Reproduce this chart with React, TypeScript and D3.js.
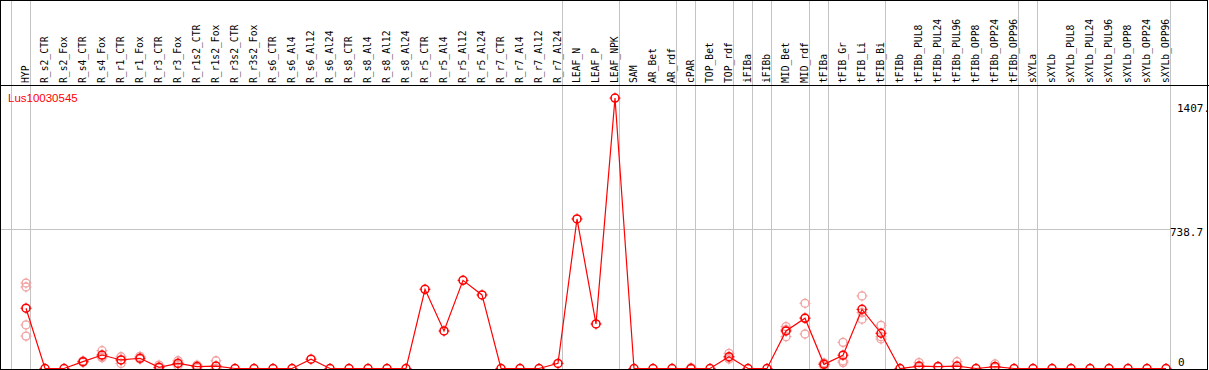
import React, { useEffect } from 'react';
import * as d3 from 'd3';

const geneName = 'Lus10030545';

const categories = [
  'HYP', 'R_s2_CTR', 'R_s2_Fox', 'R_s4_CTR', 'R_s4_Fox', 'R_r1_CTR', 'R_r1_Fox', 'R_r3_CTR', 'R_r3_Fox',
  'R_r1s2_CTR', 'R_r1s2_Fox', 'R_r3s2_CTR', 'R_r3s2_Fox', 'R_s6_CTR', 'R_s6_Al4', 'R_s6_Al12', 'R_s6_Al24',
  'R_s8_CTR', 'R_s8_Al4', 'R_s8_Al12', 'R_s8_Al24', 'R_r5_CTR', 'R_r5_Al4', 'R_r5_Al12', 'R_r5_Al24',
  'R_r7_CTR', 'R_r7_Al4', 'R_r7_Al12', 'R_r7_Al24', 'LEAF_N', 'LEAF_P', 'LEAF_NPK', 'SAM', 'AR_Bet', 'AR_rdf',
  'cPAR', 'TOP_Bet', 'TOP_rdf', 'iFIBa', 'iFIBb', 'MID_Bet', 'MID_rdf', 'tFIBa', 'tFIB_Gr', 'tFIB_Li', 'tFIB_Bi',
  'tFIBb', 'tFIBb_PUL8', 'tFIBb_PUL24', 'tFIBb_PUL96', 'tFIBb_OPP8', 'tFIBb_OPP24', 'tFIBb_OPP96',
  'sXYLa', 'sXYLb', 'sXYLb_PUL8', 'sXYLb_PUL24', 'sXYLb_PUL96', 'sXYLb_OPP8', 'sXYLb_OPP24', 'sXYLb_OPP96',
];

// mean expression per sample
const expression = [
  318, 0, 0, 36, 71, 45, 54, 6, 27,
  10, 13, 0, 0, 0, 0, 49, 0,
  0, 0, 0, 0, 418, 198, 465, 388,
  0, 0, 0, 27, 789, 235, 1427, 0, 0, 0,
  0, 0, 62, 0, 0, 198, 265, 22, 70, 312, 186,
  0, 13, 10, 13, 0, 10, 0,
  0, 0, 0, 0, 0, 0, 0, 0,
];

// replicate values per sample (empty = replicates coincide with the mean)
const replicates: number[][] = [
  [451, 430, 230, 171], [], [], [40, 32, 36], [94, 57, 62], [62, 27, 46], [64, 50, 52], [18, 3], [41, 15, 29],
  [3, 18], [41, 0], [], [], [], [], [], [],
  [], [], [], [], [], [], [], [],
  [], [], [], [], [], [], [], [], [], [],
  [5, 0], [], [80, 57, 50], [], [], [221, 168, 205], [344, 182, 268], [24, 30, 12], [138, 31, 40], [383, 260, 295], [228, 168, 156],
  [], [31, 5], [10], [36, 3], [], [24, 5], [],
  [], [], [], [], [], [], [], [],
];

// samples after which a group separator is drawn
const groupEnds = [
  'HYP', 'R_r7_Al24', 'LEAF_NPK', 'AR_rdf', 'cPAR', 'TOP_rdf', 'iFIBa', 'iFIBb', 'MID_rdf', 'tFIBa', 'tFIB_Bi',
  'tFIBb_OPP96', 'sXYLa', 'sXYLb_OPP96',
];

const yTickValues = [1407, 738.7, 0];
const yTickLabels = ['1407.', '738.7', '0'];
const yGridValues = [738.7];

const W = 1209;
const H = 370;

export default function App() {
  useEffect(() => {
    document.body.style.margin = '0';
  }, []);

  const x = d3.scalePoint<string>().domain(categories).range([26, 1166]).padding(0);
  const step = x.step();
  const y = d3.scaleLinear().domain([0, 1477.4]).range([368.5, 88.5]);

  const line = d3
    .line<number>()
    .x((_, i) => x(categories[i]) as number)
    .y((d) => y(d));

  const mono = '"DejaVu Sans Mono", "Liberation Mono", monospace';
  const red = '#ff0000';
  const pink = '#f2a0a0';

  const marker = (cx: number, cy: number, color: string, key: string, sw: number) => (
    <g key={key}>
      <circle cx={cx} cy={cy} r={4} fill="none" stroke={color} strokeWidth={sw} />
      <line x1={cx} x2={cx} y1={cy - 5.5} y2={cy - 3} stroke={color} strokeWidth={1} />
      <line x1={cx} x2={cx} y1={cy + 3} y2={cy + 5.5} stroke={color} strokeWidth={1} />
      <line x1={cx - 5.5} x2={cx - 3} y1={cy} y2={cy} stroke={color} strokeWidth={1} />
      <line x1={cx + 3} x2={cx + 5.5} y1={cy} y2={cy} stroke={color} strokeWidth={1} />
    </g>
  );

  const sepX = (name: string) => Math.round(x(name) as number) + 4.5;
  const firstSep = Math.round((x(categories[0]) as number) - step) + 4.5;
  const tickOffsets = [10, 7.5, -2.5];
  const tickX = [1177, 1170, 1178];

  return (
    <div style={{ position: 'absolute', left: 0, top: 0 }}>
      <svg width={W} height={H} style={{ display: 'block' }}>
        <rect x={0} y={0} width={W} height={H} fill="#ffffff" />
        {/* group separators */}
        <line x1={firstSep} x2={firstSep} y1={0} y2={H} stroke="#c4c4c4" strokeWidth={1} />
        {groupEnds.map((g) => (
          <line key={g} x1={sepX(g)} x2={sepX(g)} y1={0} y2={H} stroke="#c4c4c4" strokeWidth={1} />
        ))}
        {/* horizontal gridlines */}
        {yGridValues.map((v) => (
          <line key={v} x1={0} x2={sepX(categories[categories.length - 1])} y1={Math.round(y(v)) + 0.5} y2={Math.round(y(v)) + 0.5} stroke="#c4c4c4" strokeWidth={1} />
        ))}
        {/* header labels */}
        {categories.map((c) => (
          <text
            key={c}
            transform={`translate(${(x(c) as number) + 3},83) rotate(-90)`}
            fontFamily={mono}
            fontSize={9.7}
            fill="#000"
          >
            {c}
          </text>
        ))}
        {/* y labels */}
        {yTickValues.map((v, i) => (
          <text key={i} x={tickX[i]} y={y(v) + tickOffsets[i]} fontFamily={mono} fontSize={11} fill="#000">
            {yTickLabels[i]}
          </text>
        ))}
        {/* title */}
        <text x={8} y={102} fontFamily='"Liberation Sans", Arial, sans-serif' fontSize={11.5} fill={red}>
          {geneName}
        </text>
        {/* replicate points */}
        {replicates.map((reps, i) =>
          reps.map((v, j) => marker(x(categories[i]) as number, y(v), pink, `r${i}-${j}`, 1.3))
        )}
        {/* mean line */}
        <path d={line(expression) || ''} fill="none" stroke={red} strokeWidth={1.2} />
        {expression.map((v, i) => marker(x(categories[i]) as number, y(v), red, `m${i}`, 1.5))}
        {/* frame */}
        <line x1={0} x2={W} y1={85.5} y2={85.5} stroke="#000" strokeWidth={1} />
        <rect x={0.5} y={0.5} width={W - 2} height={H - 1} fill="none" stroke="#000" strokeWidth={1} />
      </svg>
    </div>
  );
}
